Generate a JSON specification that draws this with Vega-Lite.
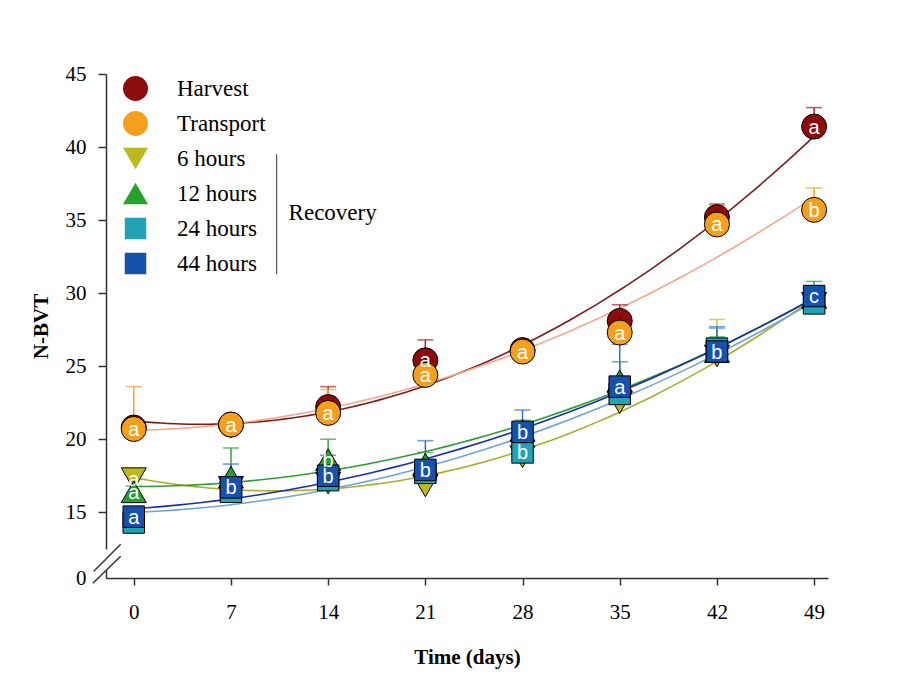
{
  "$schema": "https://vega.github.io/schema/vega-lite/v6.json",
  "width": 722,
  "height": 504,
  "autosize": {"type": "none"},
  "padding": {"left": 106, "top": 74, "right": 82, "bottom": 119},
  "background": "white",
  "config": {
    "view": {"stroke": null},
    "axis": {
      "grid": false,
      "domainColor": "#333333",
      "domainWidth": 1.5,
      "tickColor": "#333333",
      "tickWidth": 1.5,
      "labelFont": "Liberation Serif",
      "labelFontSize": 21,
      "labelColor": "black",
      "titleFont": "Liberation Serif",
      "titleFontSize": 21,
      "titleFontWeight": "bold",
      "titleColor": "black"
    },
    "legend": {
      "labelFont": "Liberation Serif",
      "labelFontSize": 23,
      "labelColor": "black",
      "labelOffset": 28,
      "symbolSize": 625,
      "rowPadding": 10,
      "clipHeight": 25,
      "symbolStrokeColor": "black",
      "symbolStrokeWidth": 1,
      "padding": 0
    }
  },
  "data": {
    "values": [
      {"series": "Harvest", "day": 0, "mean": 20.8, "upper": 21.3, "letter": ""},
      {"series": "Harvest", "day": 7, "mean": 21.0, "upper": 21.5, "letter": ""},
      {"series": "Harvest", "day": 14, "mean": 22.2, "upper": 23.6, "letter": ""},
      {"series": "Harvest", "day": 21, "mean": 25.4, "upper": 26.8, "letter": "a"},
      {"series": "Harvest", "day": 28, "mean": 26.1, "upper": 26.5, "letter": ""},
      {"series": "Harvest", "day": 35, "mean": 28.1, "upper": 29.2, "letter": ""},
      {"series": "Harvest", "day": 42, "mean": 35.2, "upper": 36.1, "letter": ""},
      {"series": "Harvest", "day": 49, "mean": 41.4, "upper": 42.7, "letter": "a"},
      {"series": "Transport", "day": 0, "mean": 20.7, "upper": 23.6, "letter": "a"},
      {"series": "Transport", "day": 7, "mean": 21.0, "upper": 21.5, "letter": "a"},
      {"series": "Transport", "day": 14, "mean": 21.8, "upper": 23.4, "letter": "a"},
      {"series": "Transport", "day": 21, "mean": 24.4, "upper": 25.0, "letter": "a"},
      {"series": "Transport", "day": 28, "mean": 26.0, "upper": 26.4, "letter": "a"},
      {"series": "Transport", "day": 35, "mean": 27.3, "upper": 28.0, "letter": "a"},
      {"series": "Transport", "day": 42, "mean": 34.7, "upper": 36.0, "letter": "a"},
      {"series": "Transport", "day": 49, "mean": 35.7, "upper": 37.2, "letter": "b"},
      {"series": "6 hours", "day": 0, "mean": 17.3, "upper": 17.9, "letter": "a"},
      {"series": "6 hours", "day": 7, "mean": 16.7, "upper": 17.2, "letter": ""},
      {"series": "6 hours", "day": 14, "mean": 17.0, "upper": 17.5, "letter": ""},
      {"series": "6 hours", "day": 21, "mean": 16.8, "upper": 17.4, "letter": ""},
      {"series": "6 hours", "day": 28, "mean": 18.8, "upper": 19.4, "letter": ""},
      {"series": "6 hours", "day": 35, "mean": 22.5, "upper": 23.2, "letter": ""},
      {"series": "6 hours", "day": 42, "mean": 25.7, "upper": 28.2, "letter": ""},
      {"series": "6 hours", "day": 49, "mean": 29.3, "upper": 30.0, "letter": ""},
      {"series": "12 hours", "day": 0, "mean": 16.4, "upper": 16.8, "letter": "a"},
      {"series": "12 hours", "day": 7, "mean": 17.4, "upper": 19.4, "letter": ""},
      {"series": "12 hours", "day": 14, "mean": 18.6, "upper": 20.0, "letter": "b"},
      {"series": "12 hours", "day": 21, "mean": 18.3, "upper": 19.1, "letter": ""},
      {"series": "12 hours", "day": 28, "mean": 20.6, "upper": 21.3, "letter": ""},
      {"series": "12 hours", "day": 35, "mean": 24.0, "upper": 25.3, "letter": ""},
      {"series": "12 hours", "day": 42, "mean": 26.0, "upper": 27.0, "letter": ""},
      {"series": "12 hours", "day": 49, "mean": 29.7, "upper": 30.8, "letter": ""},
      {"series": "24 hours", "day": 0, "mean": 14.3, "upper": 14.8, "letter": ""},
      {"series": "24 hours", "day": 7, "mean": 16.4, "upper": 17.0, "letter": ""},
      {"series": "24 hours", "day": 14, "mean": 17.2, "upper": 17.8, "letter": ""},
      {"series": "24 hours", "day": 21, "mean": 17.7, "upper": 18.3, "letter": ""},
      {"series": "24 hours", "day": 28, "mean": 19.1, "upper": 20.0, "letter": "b"},
      {"series": "24 hours", "day": 35, "mean": 23.1, "upper": 23.8, "letter": ""},
      {"series": "24 hours", "day": 42, "mean": 26.2, "upper": 27.6, "letter": ""},
      {"series": "24 hours", "day": 49, "mean": 29.3, "upper": 29.9, "letter": ""},
      {"series": "44 hours", "day": 0, "mean": 14.7, "upper": 15.2, "letter": "a"},
      {"series": "44 hours", "day": 7, "mean": 16.7, "upper": 18.3, "letter": "b"},
      {"series": "44 hours", "day": 14, "mean": 17.5, "upper": 18.9, "letter": "b"},
      {"series": "44 hours", "day": 21, "mean": 17.9, "upper": 19.9, "letter": "b"},
      {"series": "44 hours", "day": 28, "mean": 20.5, "upper": 22.0, "letter": "b"},
      {"series": "44 hours", "day": 35, "mean": 23.6, "upper": 26.5, "letter": "a"},
      {"series": "44 hours", "day": 42, "mean": 26.0, "upper": 27.7, "letter": "b"},
      {"series": "44 hours", "day": 49, "mean": 29.8, "upper": 30.5, "letter": "c"}
    ]
  },
  "encoding": {
    "x": {
      "field": "day",
      "type": "quantitative",
      "scale": {"domain": [-2, 50], "nice": false, "zero": false},
      "axis": {
        "title": "Time (days)",
        "values": [0, 7, 14, 21, 28, 35, 42, 49],
        "tickSize": 7,
        "labelPadding": 16,
        "titlePadding": 24
      }
    },
    "y": {
      "field": "mean",
      "type": "quantitative",
      "scale": {"domain": [10.5, 45], "nice": false, "zero": false},
      "axis": {
        "title": "N-BVT",
        "values": [10.5, 15, 20, 25, 30, 35, 40, 45],
        "labelExpr": "datum.value < 11 ? '0' : datum.label",
        "tickOpacity": {"condition": {"test": "datum.value < 11", "value": 0}, "value": 1},
        "tickSize": 8,
        "labelPadding": 12,
        "titlePadding": 14
      }
    }
  },
  "layer": [
    {
      "transform": [
        {"regression": "mean", "on": "day", "groupby": ["series"], "method": "poly", "order": 2, "extent": [0, 49]}
      ],
      "mark": {"type": "line", "strokeWidth": 1.6},
      "encoding": {
        "stroke": {
          "field": "series",
          "type": "nominal",
          "scale": {
            "domain": ["44 hours", "24 hours", "12 hours", "6 hours", "Transport", "Harvest"],
            "range": ["#1b2ea8", "#6fa3d8", "#2f9e34", "#a8ae2c", "#f2a88c", "#7d1c1c"]
          },
          "legend": null
        }
      }
    },
    {
      "mark": {"type": "rule", "strokeWidth": 1.5},
      "encoding": {
        "y2": {"field": "upper"},
        "color": {
          "field": "series",
          "type": "nominal",
          "scale": {
            "domain": ["Transport", "Harvest", "6 hours", "12 hours", "24 hours", "44 hours"],
            "range": ["#f0a530", "#9c2a2a", "#c8c23a", "#33a040", "#4f9fd2", "#3f6fc4"]
          },
          "legend": null
        }
      }
    },
    {
      "mark": {"type": "tick", "orient": "horizontal", "size": 16, "thickness": 1.6},
      "encoding": {
        "y": {"field": "upper", "type": "quantitative"},
        "color": {"field": "series", "type": "nominal", "legend": null}
      }
    },
    {
      "mark": {"type": "point", "filled": true, "opacity": 1, "stroke": "black", "strokeWidth": 1, "size": 625},
      "encoding": {
        "fill": {
          "field": "series",
          "type": "nominal",
          "scale": {
            "domain": ["Harvest", "Transport", "6 hours", "12 hours", "24 hours", "44 hours"],
            "range": ["#8c0b0b", "#f5a01c", "#bcb91c", "#27a12a", "#22a2b5", "#1651ad"]
          },
          "legend": {
            "title": null, "orient": "none", "legendX": 16, "legendY": 2,
            "symbolStrokeColor": "black", "symbolStrokeWidth": 1.2,
            "encode": {"symbols": {"update": {"stroke": {"value": "black"}, "strokeWidth": {"value": 1.2}}}}
          }
        },
        "shape": {
          "field": "series",
          "type": "nominal",
          "scale": {
            "domain": ["Harvest", "Transport", "6 hours", "12 hours", "24 hours", "44 hours"],
            "range": ["circle", "circle", "triangle-down", "triangle-up", "M-0.86,-0.86H0.86V0.86H-0.86Z", "M-0.86,-0.86H0.86V0.86H-0.86Z"]
          },
          "legend": {
            "title": null, "orient": "none", "legendX": 16, "legendY": 2,
            "symbolStrokeColor": "black", "symbolStrokeWidth": 1.2,
            "encode": {"symbols": {"update": {"stroke": {"value": "black"}, "strokeWidth": {"value": 1.2}}}}
          }
        }
      }
    },
    {
      "transform": [{"filter": "datum.letter != ''"}],
      "mark": {"type": "text", "fill": "white", "font": "Liberation Sans", "fontSize": 20, "align": "center", "baseline": "middle", "dy": 1},
      "encoding": {"text": {"field": "letter"}}
    },
    {
      "transform": [{"filter": "datum.series == 'Harvest' && datum.day == 0"}],
      "mark": {"type": "rule", "color": "#555555", "strokeWidth": 1.2},
      "encoding": {"x": {"datum": 10.29}, "y": {"datum": 31.3}, "y2": {"datum": 39.5}}
    },
    {
      "transform": [{"filter": "datum.series == 'Harvest' && datum.day == 0"}],
      "mark": {"type": "text", "text": "Recovery", "font": "Liberation Serif", "fontSize": 23, "color": "black", "align": "left", "baseline": "middle"},
      "encoding": {"x": {"datum": 11.15}, "y": {"datum": 35.5}}
    },
    {
      "transform": [{"filter": "datum.series == 'Harvest' && datum.day == 0"}],
      "mark": {"type": "rect", "fill": "white"},
      "encoding": {"x": {"datum": -2.25}, "x2": {"datum": -1.75}, "y": {"datum": 11.0}, "y2": {"datum": 12.45}}
    },
    {
      "transform": [{"filter": "datum.series == 'Harvest' && datum.day == 0"}],
      "mark": {"type": "rule", "color": "#333333", "strokeWidth": 1.5},
      "encoding": {"x": {"datum": -2.88}, "x2": {"datum": -0.94}, "y": {"datum": 10.96}, "y2": {"datum": 12.81}}
    },
    {
      "transform": [{"filter": "datum.series == 'Harvest' && datum.day == 0"}],
      "mark": {"type": "rule", "color": "#333333", "strokeWidth": 1.5},
      "encoding": {"x": {"datum": -2.95}, "x2": {"datum": -0.94}, "y": {"datum": 10.14}, "y2": {"datum": 11.99}}
    }
  ]
}
